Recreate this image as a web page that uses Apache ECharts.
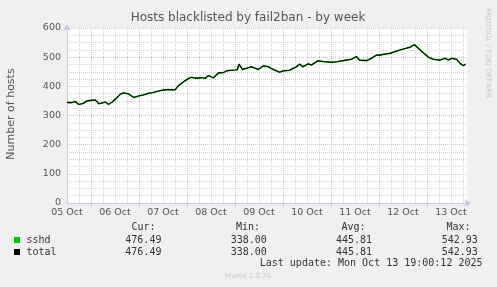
<!DOCTYPE html>
<html>
<head>
<meta charset="utf-8">
<script src="https://cdn.jsdelivr.net/npm/echarts@6/dist/echarts.min.js"></script>
<style>
html,body{margin:0;padding:0;background:#F0F0F0;}
#chart{width:497px;height:287px;}
</style>
</head>
<body>
<div id="chart"></div>
<script>
// Hours since 05 Oct 12:00 (left edge of the plot)
const hours = [0,2,4.2,5.8,8,10,12,14.2,16,17.5,19.2,20.8,22.5,24.2,26.7,28.3,30.8,33.3,35.8,38,40.8,43,45.8,48,50.8,54,55.7,57.5,59,60.5,62.3,64,65.7,67.5,69,70.7,73.2,75.7,78.2,79.8,82,84,85.2,86,87.7,89.8,92.3,95.7,98.2,100.7,102,103.8,106.3,108,111.3,114.7,116.3,118,120.5,122.2,125.5,128,132.2,135.5,139.7,142.2,144.7,146.3,149.7,152.2,154.7,156.5,159,161.5,164.8,168.2,171.5,173.7,175.7,178.2,180.7,183.2,186.5,189,190.7,192.3,194.8,196.5,198.2,199.3];
const sshdValues = [345,344,348,338,341,350,352,353,340,343,346,338,346,356,373,378,374,362,367,370,376,379,384,387,389,388,402,412,419,426,431,428,428,430,427,437,429,446,447,453,455,456,457,476,458,462,467,458,470,467,462,456,448,453,455,467,476,467,477,473,488,485,482,485,490,493,502,490,488,496,507,507,511,513,521,528,534,542.93,530,515,500,493,490,496,490,496,493,479,471,476.49];
const totalValues = sshdValues.slice();
const dayLabels = ['05 Oct','06 Oct','07 Oct','08 Oct','09 Oct','10 Oct','11 Oct','12 Oct','13 Oct'];
const yTicks = [0,100,200,300,400,500,600];
const seriesNames = ['sshd','total'];
const seriesColors = ['#00CC00','#000000'];
const statHeaders = ['Cur:','Min:','Avg:','Max:'];
const sshdStats = ['476.49','338.00','445.81','542.93'];
const totalStats = ['476.49','338.00','445.81','542.93'];
const titleText = 'Hosts blacklisted by fail2ban - by week';
const yAxisName = 'Number of hosts';
const lastUpdate = 'Last update: Mon Oct 13 19:00:12 2025';
const footer = 'Munin 2.0.76';
const sideText = 'RRDTOOL / TOBI OETIKER';

const chart = echarts.init(document.getElementById('chart'), null, {renderer:'canvas'});
const pair = (vals) => hours.map((h,i)=>[h, vals[i]]);
const GREY = '#D2D2D2', NONE = 'rgba(0,0,0,0)';
const RED = '#F2B0B0';
const mono = 'DejaVu Sans Mono';
const statCols = [131.5, 236, 341.5, 446.5];
const valCols = [125.3, 230.7, 336, 441.7];
const greyV = {show:true, showMinLine:false, showMaxLine:false, lineStyle:{color:GREY, width:1, type:[1,1]}};

const graphics = [
  {type:'text', x:248, y:18, style:{text:titleText, font:'12px "DejaVu Sans"', fill:'#555', align:'center', verticalAlign:'middle'}},
  {type:'text', x:11, y:114, rotation:Math.PI/2, style:{text:yAxisName, font:'11px "DejaVu Sans"', fill:'#555', align:'center', verticalAlign:'middle'}},
  {type:'text', x:488, y:53, rotation:-Math.PI/2, style:{text:sideText, font:'7px "DejaVu Sans"', fill:'#C8C8C8', align:'center', verticalAlign:'middle'}},
  {type:'text', x:248, y:276.5, style:{text:footer, font:'7px "DejaVu Sans"', fill:'#C8C8C8', align:'center', verticalAlign:'middle'}},
  {type:'text', x:482.5, y:263.5, style:{text:lastUpdate, font:'10px "'+mono+'"', fill:'#333', align:'right', verticalAlign:'middle'}}
];
statHeaders.forEach((h,i)=>graphics.push({type:'text', x:statCols[i], y:227.5, style:{text:h, font:'10px "'+mono+'"', fill:'#333', align:'left', verticalAlign:'middle'}}));
[sshdStats,totalStats].forEach((row,r)=>{
  const yy = 240 + r*12;
  graphics.push({type:'rect', shape:{x:14, y:yy-3, width:6, height:6}, style:{fill:seriesColors[r]}});
  graphics.push({type:'text', x:26.5, y:yy, style:{text:seriesNames[r], font:'10px "'+mono+'"', fill:'#333', align:'left', verticalAlign:'middle'}});
  row.forEach((v,i)=>graphics.push({type:'text', x:valCols[i], y:yy, style:{text:v, font:'10px "'+mono+'"', fill:'#333', align:'left', verticalAlign:'middle'}}));
});

chart.setOption({
  animation:false,
  backgroundColor:'#F0F0F0',
  grid:[
    {left:67, top:28, width:400, height:175, show:true, backgroundColor:'#FFFFFF', borderWidth:0},
    // shifted by 12 h (24 px): midnight (major) grid
    {left:91, top:28, width:376, height:175, show:false},
    // shifted by 6 h (12 px): remaining 6-hour minor grid
    {left:79, top:28, width:388, height:175, show:false}
  ],
  xAxis:[
    {type:'value', gridIndex:0, position:'bottom', offset:0, min:0, max:200, interval:24, z:1,
     axisLine:{show:true, onZero:false, lineStyle:{color:'#C8C8F0', width:1}, symbol:['none','arrow'], symbolSize:[6,7], symbolOffset:[0,4]},
     axisTick:{show:false}, splitLine:greyV,
     axisLabel:{show:true, margin:5, color:'#555', fontFamily:'DejaVu Sans', fontSize:9.5, showMaxLabel:false,
       formatter:(v)=>{const k=v/24; return Number.isInteger(k)&&dayLabels[k]?dayLabels[k]:'';}}},
    {type:'value', gridIndex:1, position:'bottom', offset:0, min:0, max:188, interval:24, z:2,
     axisLine:{show:false, onZero:false}, axisLabel:{show:false},
     axisTick:{show:true, inside:false, length:3, lineStyle:{color:RED, width:1}},
     splitLine:{show:true, showMinLine:true, showMaxLine:false, lineStyle:{color:RED, width:1, type:[1,1]}}},
    {type:'value', gridIndex:2, position:'bottom', offset:0, min:0, max:194, interval:12, z:1,
     axisLine:{show:false, onZero:false}, axisLabel:{show:false}, axisTick:{show:false},
     splitLine:{show:true, showMinLine:true, showMaxLine:false, lineStyle:{color:GREY, width:1, type:[1,1]}}}
  ],
  yAxis:[
    {type:'value', gridIndex:0, position:'left', offset:0, min:0, max:600, interval:25, z:1,
     axisLine:{show:true, onZero:false, lineStyle:{color:'#C8C8F0', width:1}, symbol:['none','arrow'], symbolSize:[6,7], symbolOffset:[0,4]},
     axisTick:{show:false}, axisLabel:{show:false},
     splitLine:{show:true, showMinLine:true, showMaxLine:true, lineStyle:{color:[NONE,GREY,GREY,GREY], width:1, type:[1,1]}}},
    {type:'value', gridIndex:0, position:'left', offset:0, min:0, max:600, interval:100, z:2,
     axisLine:{show:false, onZero:false}, axisTick:{show:false},
     axisLabel:{show:true, margin:6, color:'#555', fontFamily:'DejaVu Sans', fontSize:9.5,
       formatter:(v)=>yTicks.includes(v)?String(v):''},
     splitLine:{show:true, showMinLine:false, showMaxLine:true, lineStyle:{color:RED, width:1, type:[1,1]}}},
    {type:'value', gridIndex:1, min:0, max:600, show:false},
    {type:'value', gridIndex:2, min:0, max:600, show:false}
  ],
  series:[
    {name:seriesNames[0], type:'line', xAxisIndex:0, yAxisIndex:0, data:pair(sshdValues), showSymbol:false, z:5,
     lineStyle:{color:seriesColors[0], width:1.6}},
    {name:seriesNames[1], type:'line', xAxisIndex:0, yAxisIndex:0, data:pair(totalValues), showSymbol:false, z:6,
     lineStyle:{color:seriesColors[1], width:1.1}}
  ],
  graphic:graphics
});
</script>
</body>
</html>
